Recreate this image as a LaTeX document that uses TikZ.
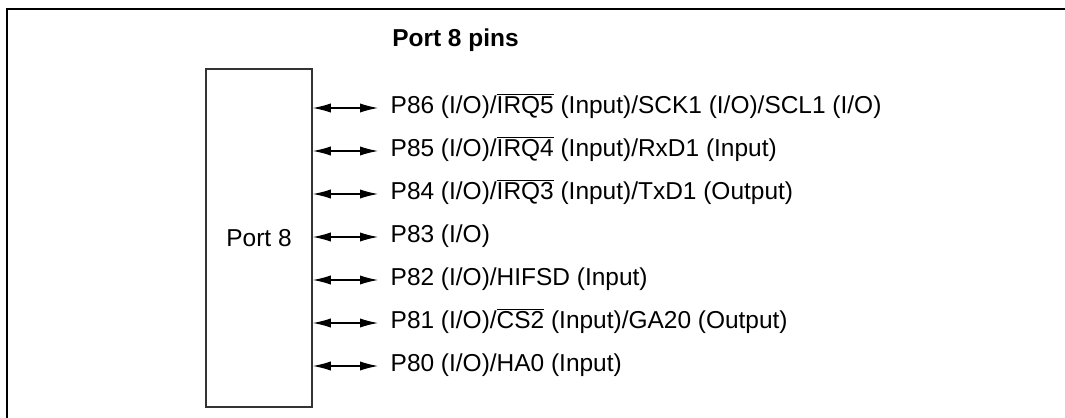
\documentclass[tikz,border=0pt]{standalone}
\usepackage{fontspec}
\setmainfont{Liberation Sans}
\usetikzlibrary{arrows.meta,positioning}
\definecolor{ink}{HTML}{000000}
\definecolor{edge}{HTML}{333333}
\newcommand{\negpin}[1]{$\overline{\mbox{#1}}$}

\begin{document}
\begin{tikzpicture}[x=0.25mm,y=-0.25mm,font=\fontsize{17.4}{20}\selectfont,>={Latex[length=4.5mm,width=2.3mm]},
  frame/.style={draw=ink,line width=.65mm},
  portbox/.style={draw=edge,line width=.4mm,minimum width=26.5mm,minimum height=84.5mm},
  pin/.style={anchor=west,inner xsep=3.1mm,inner ysep=0pt,text height=.93em,text depth=.21em},
  link/.style={<->,line width=.28mm,draw=ink}]
\useasboundingbox (0,0) rectangle (1065,418);
\draw[frame] (1070,9) -- (7,9) -- (7,425);

\node[portbox] (port) at (259,238) {Port 8};
\node[anchor=base west,inner sep=0pt,font=\fontsize{17.4}{20}\selectfont\bfseries] (title) at (392,47) {Port 8 pins};

\node[pin] (p86) at (378,108) {P86 (I/O)/\negpin{IRQ5} (Input)/SCK1 (I/O)/SCL1 (I/O)};
\node[pin,below=10.75mm of p86.west,anchor=west] (p85) {P85 (I/O)/\negpin{IRQ4} (Input)/RxD1 (Input)};
\node[pin,below=10.75mm of p85.west,anchor=west] (p84) {P84 (I/O)/\negpin{IRQ3} (Input)/TxD1 (Output)};
\node[pin,below=10.75mm of p84.west,anchor=west] (p83) {P83 (I/O)};
\node[pin,below=10.75mm of p83.west,anchor=west] (p82) {P82 (I/O)/HIFSD (Input)};
\node[pin,below=10.75mm of p82.west,anchor=west] (p81) {P81 (I/O)/\negpin{CS2} (Input)/GA20 (Output)};
\node[pin,below=10.75mm of p81.west,anchor=west] (p80) {P80 (I/O)/HA0 (Input)};

\draw[link] (port.east |- p86.west) -- (p86.west);
\draw[link] (port.east |- p85.west) -- (p85.west);
\draw[link] (port.east |- p84.west) -- (p84.west);
\draw[link] (port.east |- p83.west) -- (p83.west);
\draw[link] (port.east |- p82.west) -- (p82.west);
\draw[link] (port.east |- p81.west) -- (p81.west);
\draw[link] (port.east |- p80.west) -- (p80.west);
\end{tikzpicture}
\end{document}
